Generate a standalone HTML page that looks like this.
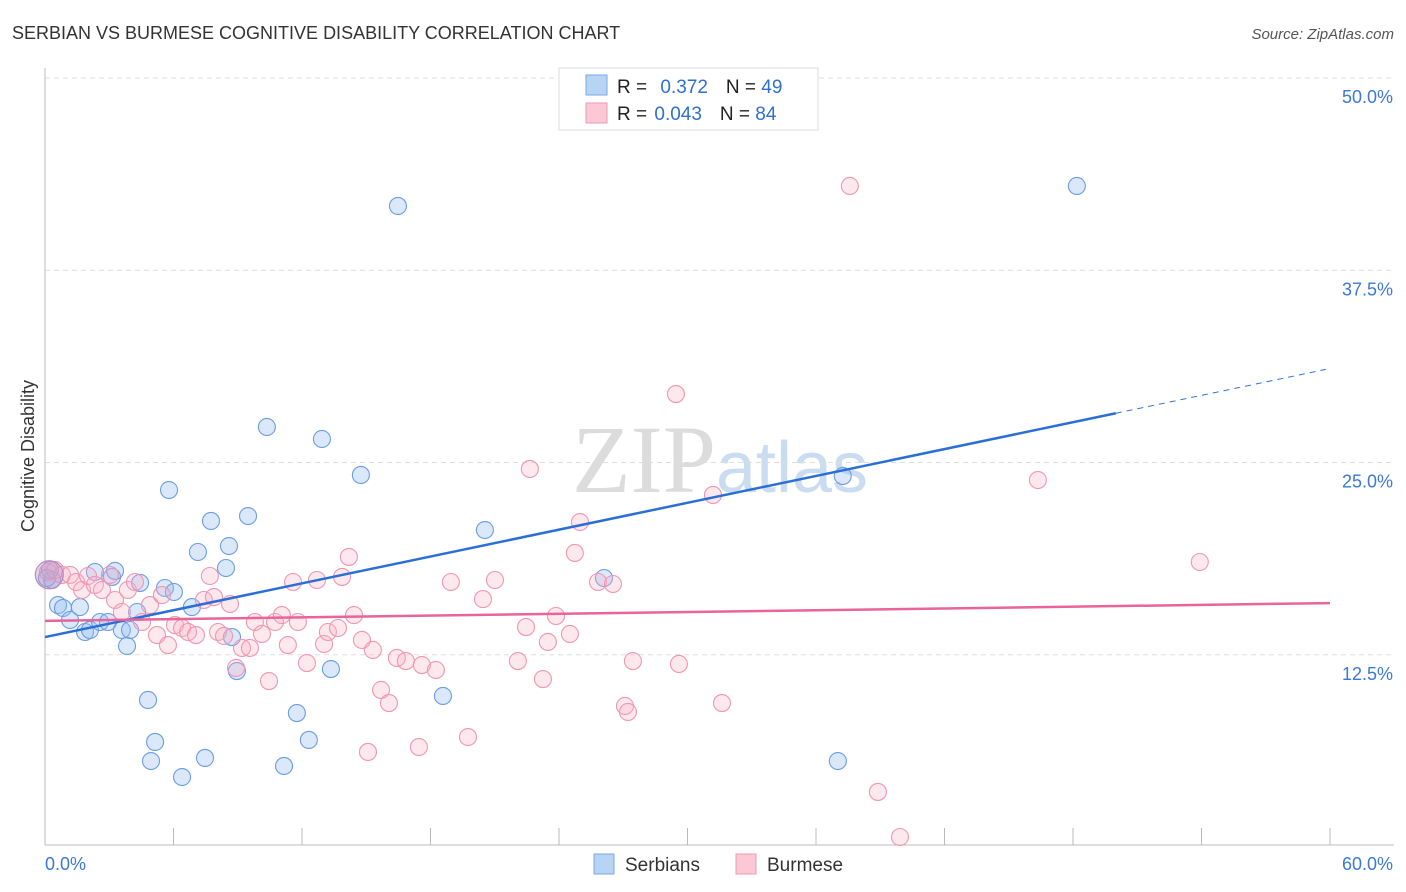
<!DOCTYPE html>
<html><head><meta charset="utf-8"><style>
body{margin:0;background:#fff;font-family:"Liberation Sans",sans-serif;}
svg{display:block}
</style></head><body>
<svg id="chart" width="1406" height="892">
<text x="12" y="39" font-size="18" fill="#333">SERBIAN VS BURMESE COGNITIVE DISABILITY CORRELATION CHART</text>
<text x="1394" y="39" font-size="15" fill="#555" font-style="italic" text-anchor="end">Source: ZipAtlas.com</text>
<text x="720" y="492" font-size="96" fill="#dcdcdc" text-anchor="middle" font-family="Liberation Serif,serif">ZIP<tspan fill="#cadcf0" font-family="Liberation Sans,sans-serif" font-size="72">atlas</tspan></text>
<g id="grid"></g>
<g id="axes"></g>
<g id="marks"></g>
<text transform="translate(34,456) rotate(-90)" font-size="18" fill="#333" text-anchor="middle">Cognitive Disability</text>
<g>
<rect x="559" y="68" width="259" height="62" fill="#fff" stroke="#ddd"/>
<rect x="586" y="75" width="21" height="20" fill="#b8d4f5" stroke="#7aa9e6"/>
<rect x="586" y="103" width="21" height="20" fill="#fcc8d6" stroke="#ee98b2"/>
<text x="617" y="93" font-size="19" fill="#222">R = <tspan fill="#2f6fd0" dx="8">0.372</tspan><tspan dx="18" fill="#222">N = </tspan><tspan fill="#2f6fd0">49</tspan></text>
<text x="617" y="120" font-size="19" fill="#222">R = <tspan fill="#2f6fd0" dx="2">0.043</tspan><tspan dx="18" fill="#222">N = </tspan><tspan fill="#2f6fd0">84</tspan></text>
</g>
<g>
<rect x="594" y="854" width="20" height="20" fill="#b8d4f5" stroke="#7aa9e6"/>
<text x="625" y="871" font-size="19" fill="#333">Serbians</text>
<rect x="736" y="854" width="20" height="20" fill="#fcc8d6" stroke="#ee98b2"/>
<text x="767" y="871" font-size="19" fill="#333">Burmese</text>
</g>
</svg>
<script>
const yTicks=[12.5,25,37.5,50];
const yTickLabels=["12.5%","25.0%","37.5%","50.0%"];
const xTickCount=10;
const xAxisLabels=["0.0%","60.0%"];
const serbX=[0.33,0.61,0.84,1.17,1.63,1.87,2.10,2.33,2.57,2.94,3.13,3.27,3.59,3.83,3.97,4.30,4.44,4.81,5.14,4.95,5.60,5.79,6.02,6.40,6.86,7.14,7.47,7.75,8.45,8.59,8.73,8.96,9.48,10.36,11.16,11.76,12.32,12.93,13.35,14.75,16.48,18.58,20.54,26.10,37.02,37.25,48.18,0.23,0.09];
const serbY=[17.36,15.73,15.54,14.76,15.60,13.98,14.11,17.88,14.63,14.63,17.56,17.95,14.11,13.07,14.11,15.28,17.17,9.56,6.83,5.59,16.84,23.21,16.58,4.55,15.60,19.18,5.79,21.20,18.14,19.57,13.65,11.44,21.52,27.31,5.27,8.71,6.96,26.53,11.57,24.19,41.68,9.82,20.61,17.49,5.59,24.12,42.98,18.01,17.49];
const burmX=[0.14,0.47,0.79,1.17,1.45,1.73,2.01,2.33,2.66,3.03,3.27,3.59,3.87,4.20,4.53,4.90,5.23,5.46,5.74,6.07,6.40,6.68,7.05,7.42,7.70,7.89,8.08,8.36,8.64,8.92,9.20,9.57,9.80,10.13,10.46,10.74,11.06,11.34,11.58,11.81,12.23,12.70,13.03,13.21,13.68,13.87,14.19,14.43,14.80,15.31,15.69,16.06,16.43,16.85,17.46,17.60,18.25,18.95,19.75,20.45,21.01,22.08,22.46,22.64,23.25,23.48,23.86,24.51,24.74,24.98,25.82,26.52,27.08,27.22,27.45,29.46,29.60,31.19,31.61,37.58,38.89,39.92,46.36,53.92,15.08];
const burmY=[17.88,18.01,17.69,17.69,17.23,16.71,17.62,17.04,16.71,17.69,16.06,15.28,16.71,17.23,14.63,15.73,13.78,16.38,13.13,14.43,14.24,13.98,13.78,16.06,17.62,16.25,13.98,13.72,15.80,11.64,12.94,12.94,14.63,13.85,10.79,14.63,15.08,13.13,17.23,14.63,11.96,17.36,13.20,13.98,14.24,17.56,18.86,15.08,13.46,12.81,10.21,9.36,12.29,12.09,6.50,11.83,11.51,17.23,7.15,16.12,17.36,12.09,14.30,24.58,10.92,13.33,15.02,13.85,19.12,21.13,17.23,17.10,9.17,8.78,12.09,29.45,11.90,22.89,9.36,42.98,3.58,0.65,23.86,18.53,6.18];
const serbTrend=[13.65,0.291];
const burmTrend=[14.7,0.0193];

const NS="http://www.w3.org/2000/svg";
const X0=45,X1=1330,Y0=847;
const sx=v=>X0+(X1-X0)*v/60;
const sy=v=>Y0-15.38*v;
function mk(tag,attrs,parent){const e=document.createElementNS(NS,tag);for(const k in attrs)e.setAttribute(k,attrs[k]);document.getElementById(parent).appendChild(e);return e;}

yTicks.forEach((t,i)=>{
  const g=mk('line',{x1:X0,x2:1394,y1:sy(t),y2:sy(t),stroke:'#ddd','stroke-dasharray':'5,4'},'grid');
  
  
  const l=mk('text',{x:1393,y:sy(t)+25,'font-size':18,fill:'#3b78d8','text-anchor':'end'},'axes');
  l.textContent=yTickLabels[i];
  
  
});
let ax=mk('line',{x1:X0,x2:X0,y1:68,y2:845,stroke:'#bbb'},'axes');


ax=mk('line',{x1:X0,x2:1394,y1:845,y2:845,stroke:'#bbb'},'axes');


for(let i=1;i<=xTickCount;i++){
  const t=mk('line',{x1:sx(i*6),x2:sx(i*6),y1:828,y2:845,stroke:'#bbb'},'axes');
  
  
}
let xl=mk('text',{x:45,y:870,'font-size':18,fill:'#3b78d8'},'axes');xl.textContent=xAxisLabels[0];


xl=mk('text',{x:1393,y:870,'font-size':18,fill:'#3b78d8','text-anchor':'end'},'axes');xl.textContent=xAxisLabels[1];



serbX.forEach((x,i)=>{
  const c=mk('circle',{cx:sx(x),cy:sy(serbY[i]),r:8.5,fill:'rgba(150,190,240,0.35)',stroke:'#6a9de2','stroke-width':1.1},'marks');
  
  
});
burmX.forEach((x,i)=>{
  const c=mk('circle',{cx:sx(x),cy:sy(burmY[i]),r:8.5,fill:'rgba(248,180,200,0.3)',stroke:'#f096b2','stroke-width':1.1},'marks');
  
  
});
let big=mk('circle',{cx:sx(0.2),cy:sy(17.7),r:14,fill:'rgba(190,150,200,0.45)',stroke:'#c08ab8','stroke-width':1.2},'marks');



let tl=mk('line',{x1:sx(0),y1:sy(serbTrend[0]),x2:sx(50),y2:sy(serbTrend[0]+serbTrend[1]*50),stroke:'#2a6fd6','stroke-width':2.5},'marks');


tl=mk('line',{x1:sx(50),y1:sy(serbTrend[0]+serbTrend[1]*50),x2:sx(59.8),y2:sy(serbTrend[0]+serbTrend[1]*59.8),stroke:'#2a6fd6','stroke-width':1,'stroke-dasharray':'6,5'},'marks');


tl=mk('line',{x1:sx(0),y1:sy(burmTrend[0]),x2:sx(60),y2:sy(burmTrend[0]+burmTrend[1]*60),stroke:'#e8649a','stroke-width':2.5},'marks');


</script>
</body></html>
